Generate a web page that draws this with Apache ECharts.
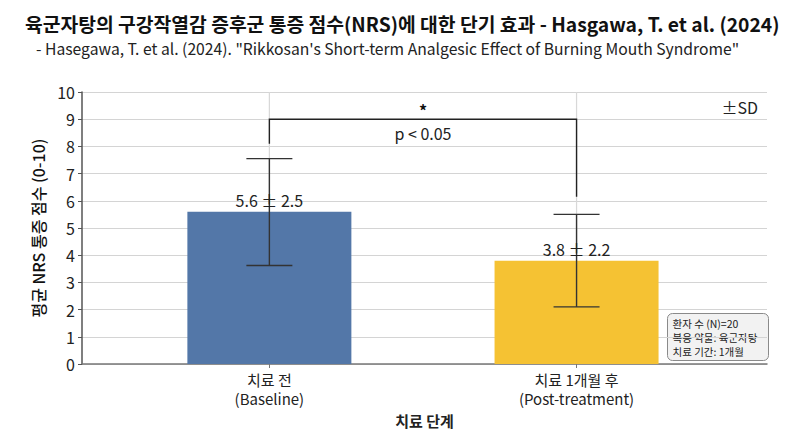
<!DOCTYPE html>
<html>
<head>
<meta charset="utf-8">
<script src="https://cdn.jsdelivr.net/npm/echarts@6/dist/echarts.min.js"></script>
<style>
html,body{margin:0;padding:0;background:#fff;}
#c{width:800px;height:436px;}
</style>
</head>
<body>
<div id="c"></div>
<script>
// ---- data ----
const categories = ['치료 전\n(Baseline)', '치료 1개월 후\n(Post-treatment)'];
const positions = [0, 1];
const means = [5.6, 3.8];
const sds = [2.5, 2.2];
const errLow = [3.62, 2.1];
const errHigh = [7.55, 5.5];
const bracketTop = 9.0;
const bracketLegs = [8.1, 6.15];
const yTicks = [0, 1, 2, 3, 4, 5, 6, 7, 8, 9, 10];
const barColors = ['#5377a8', '#f5c233'];
const infoLines = ['환자 수 (N)=20', '복용 약물: 육군자탕', '치료 기간: 1개월'];

const FONT = '"Noto Sans CJK KR", "Noto Sans", sans-serif';
const chart = echarts.init(document.getElementById('c'), null, {renderer: 'svg'});

const option = {
  backgroundColor: '#fff',
  animation: false,
  textStyle: {fontFamily: FONT},
  title: [
    {
      text: '육군자탕의 구강작열감 증후군 통증 점수(NRS)에 대한 단기 효과 - Hasgawa, T. et al. (2024)',
      left: 20, top: 9,
      textStyle: {fontFamily: FONT, fontSize: 19.3, fontWeight: 'bold', color: '#111'}
    },
    {
      text: '- Hasegawa, T. et al. (2024). "Rikkosan\'s Short-term Analgesic Effect of Burning Mouth Syndrome"',
      left: 31, top: 36,
      textStyle: {fontFamily: FONT, fontSize: 15.7, fontWeight: 'normal', color: '#222'}
    }
  ],
  grid: {left: 82, right: 33, top: 92, bottom: 72, containLabel: false},
  xAxis: {
    type: 'value', min: -0.61, max: 1.62,
    name: '치료 단계', nameLocation: 'middle', nameGap: 45,
    nameTextStyle: {fontFamily: FONT, fontSize: 15, fontWeight: 'bold', color: '#222'},
    axisLine: {show: true, onZero: false, lineStyle: {color: '#777', width: 1.5}},
    axisTick: {show: true, customValues: positions, length: 4, lineStyle: {color: '#777'}},
    axisLabel: {
      customValues: positions, fontFamily: FONT, fontSize: 15, color: '#222', lineHeight: 19, margin: 6,
      formatter: function (v) { const i = positions.indexOf(Math.round(v)); return i >= 0 ? categories[i] : ''; }
    },
    splitLine: {show: false}
  },
  yAxis: {
    type: 'value', min: 0, max: 10, interval: 1,
    name: '평균 NRS 통증 점수 (0-10)', nameLocation: 'middle', nameGap: 33, nameRotate: 90,
    nameTextStyle: {fontFamily: FONT, fontSize: 16, fontWeight: 500, color: '#111'},
    axisLine: {show: true, onZero: false, lineStyle: {color: '#555', width: 1.5}},
    axisTick: {show: true, length: 4, lineStyle: {color: '#555'}},
    axisLabel: {fontFamily: FONT, fontSize: 16, color: '#222', margin: 7,
      formatter: function (v) { return yTicks.indexOf(v) >= 0 ? String(v) : ''; }},
    splitLine: {show: true, lineStyle: {color: '#d4d4d4', width: 1}}
  },
  graphic: [
    {type: 'text', right: 42, top: 99, style: {text: '±SD', font: '16px ' + FONT, fill: '#222'}},
    {type: 'group', left: 667, top: 313, children: [
      {type: 'rect', shape: {x: 0, y: 0, width: 101, height: 47, r: 5},
        style: {fill: '#f2f2f2', stroke: '#8a8a8a', lineWidth: 1}},
      {type: 'text', x: 5, y: 3, style: {text: infoLines.join('\n'), font: '10.5px ' + FONT, fill: '#222', lineHeight: 14}}
    ]}
  ],
  series: [
    {
      type: 'custom', z: 1, silent: true,
      data: positions.map(function (p) { return [p, 10]; }),
      renderItem: function (params, api) {
        const x = api.value(0);
        const a = api.coord([x, api.value(1)]);
        const b = api.coord([x, 0]);
        return {type: 'line', shape: {x1: a[0], y1: a[1], x2: b[0], y2: b[1]},
          style: {stroke: '#d8d8d8', lineWidth: 1.2}};
      }
    },
    {
      type: 'bar', z: 2, barWidth: 164,
      data: positions.map(function (p, i) { return {value: [p, means[i]], itemStyle: {color: barColors[i]}}; })
    },
    {
      type: 'custom', z: 3, silent: true,
      data: positions.map(function (p, i) { return [p, errLow[i], errHigh[i], means[i], sds[i]]; }),
      renderItem: function (params, api) {
        const x = api.value(0);
        const lo = api.coord([x, api.value(1)]);
        const hi = api.coord([x, api.value(2)]);
        const top = api.coord([x, api.value(3)]);
        const half = 23;
        const st = {stroke: '#333', lineWidth: 1.4};
        return {type: 'group', children: [
          {type: 'line', shape: {x1: lo[0], y1: lo[1], x2: hi[0], y2: hi[1]}, style: st},
          {type: 'line', shape: {x1: lo[0] - half, y1: lo[1], x2: lo[0] + half, y2: lo[1]}, style: st},
          {type: 'line', shape: {x1: hi[0] - half, y1: hi[1], x2: hi[0] + half, y2: hi[1]}, style: st},
          {type: 'text', x: top[0], y: top[1] - 4, z2: 10,
            style: {text: api.value(3).toFixed(1) + ' ± ' + api.value(4).toFixed(1),
              font: '16px ' + FONT, fill: '#222', align: 'center', verticalAlign: 'bottom'}}
        ]};
      }
    },
    {
      type: 'custom', z: 3, silent: true,
      data: [[positions[0], positions[1], bracketTop, bracketLegs[0], bracketLegs[1]]],
      renderItem: function (params, api) {
        const x0 = api.value(0), x1 = api.value(1), yt = api.value(2);
        const p1 = api.coord([x0, api.value(3)]);
        const p2 = api.coord([x0, yt]);
        const p3 = api.coord([x1, yt]);
        const p4 = api.coord([x1, api.value(4)]);
        const mid = api.coord([(x0 + x1) / 2, yt]);
        return {type: 'group', children: [
          {type: 'polyline', shape: {points: [p1, p2, p3, p4]}, style: {stroke: '#222', lineWidth: 1.4, fill: null}},
          {type: 'text', x: mid[0], y: mid[1] - 1, style: {text: '*', font: 'bold 16px ' + FONT, fill: '#111', align: 'center', verticalAlign: 'bottom'}},
          {type: 'text', x: mid[0], y: mid[1] + 6, style: {text: 'p < 0.05', font: '16px ' + FONT, fill: '#222', align: 'center', verticalAlign: 'top'}}
        ]};
      }
    }
  ]
};
chart.setOption(option);
</script>
</body>
</html>
